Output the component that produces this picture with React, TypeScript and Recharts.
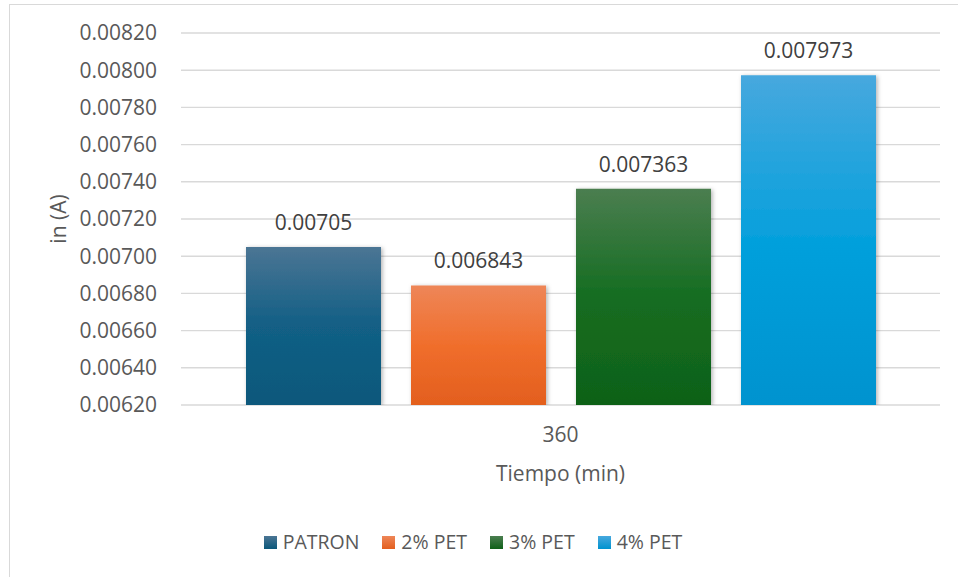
import { BarChart, Bar, XAxis, YAxis, CartesianGrid, LabelList } from "recharts";

// Corriente a 360 min por mezcla
const categories = ["360"];
const seriesNames = ["PATRON", "2% PET", "3% PET", "4% PET"];
const patron = [0.00705];
const pet2 = [0.006843];
const pet3 = [0.007363];
const pet4 = [0.007973];
const yTicks = [0.0062, 0.0064, 0.0066, 0.0068, 0.007, 0.0072, 0.0074, 0.0076, 0.0078, 0.008, 0.0082];

const seriesValues = [patron, pet2, pet3, pet4];
const keys = ["patron", "pet2", "pet3", "pet4"];

const gradients = [
  ["#4b7594", "#125f85", "#0b587b"],
  ["#ee8658", "#f06e2c", "#e35f1e"],
  ["#4b7e50", "#156d21", "#0f6118"],
  ["#47a8de", "#05a0dc", "#0093cf"],
];

const data = categories.map((cat, i) => {
  const row: any = { cat };
  keys.forEach((k, s) => {
    row[k] = seriesValues[s][i];
  });
  return row;
});

const FONT = "'Open Sans', 'Noto Sans', sans-serif";
const FS = 21;

function ChartLegend() {
  return (
    <div
      style={{
        position: "absolute",
        left: 0,
        top: 528,
        width: 946,
        display: "flex",
        justifyContent: "center",
        gap: 23,
        fontFamily: FONT,
        fontSize: 19.5,
        color: "#595959",
        lineHeight: "28px",
      }}
    >
      {seriesNames.map((name, i) => (
        <div key={name} style={{ display: "flex", alignItems: "center" }}>
          <svg width={13} height={13} style={{ marginRight: 6 }}>
            <defs>
              <linearGradient id={`lg${i}`} x1="0" y1="0" x2="0" y2="1">
                <stop offset="0%" stopColor={gradients[i][0]} />
                <stop offset="100%" stopColor={gradients[i][2]} />
              </linearGradient>
            </defs>
            <rect width={13} height={13} fill={`url(#lg${i})`} />
          </svg>
          <span>{name}</span>
        </div>
      ))}
    </div>
  );
}

export default function App() {
  return (
    <div
      style={{
        position: "fixed",
        left: 0,
        top: 0,
        width: 958,
        height: 577,
        overflow: "hidden",
        background: "#fff",
      }}
    >
      <div
        style={{
          position: "absolute",
          left: 9,
          top: 4,
          width: 1000,
          height: 620,
          borderLeft: "1.5px solid #d9d9d9",
          borderTop: "1.5px solid #d9d9d9",
        }}
      />
      <div style={{ position: "absolute", left: 0, top: 0 }}>
        <BarChart
          width={958}
          height={577}
          data={data}
          margin={{ top: 33, right: 18, bottom: 142, left: 0 }}
          barCategoryGap={65}
          barGap={30}
        >
          <defs>
            {gradients.map((g, i) => (
              <linearGradient key={i} id={`grad${i}`} x1="0" y1="0" x2="0" y2="1">
                <stop offset="0%" stopColor={g[0]} />
                <stop offset="50%" stopColor={g[1]} />
                <stop offset="100%" stopColor={g[2]} />
              </linearGradient>
            ))}
            <filter id="barShadow" x="-10%" y="-10%" width="120%" height="120%">
              <feDropShadow dx="1.5" dy="1" stdDeviation="2" floodColor="#000" floodOpacity="0.3" />
            </filter>
          </defs>
          <CartesianGrid horizontal vertical={false} stroke="#d9d9d9" strokeWidth={1.4} />
          <XAxis
            dataKey="cat"
            height={30}
            axisLine={false}
            tickLine={false}
            tickSize={0}
            tickMargin={22}
            tick={{ fill: "#595959", fontSize: FS, fontFamily: FONT }}
            label={(p: any) => {
              const vb = p.viewBox;
              return (
                <text
                  x={vb.x + vb.width / 2}
                  y={vb.y + 68}
                  textAnchor="middle"
                  dominantBaseline="central"
                  fill="#595959"
                  fontSize={FS}
                  fontFamily={FONT}
                >
                  Tiempo (min)
                </text>
              );
            }}
          />
          <YAxis
            width={181}
            domain={[0.0062, 0.0082]}
            ticks={yTicks}
            interval={0}
            allowDataOverflow
            axisLine={false}
            tickLine={false}
            tickSize={0}
            tickMargin={24}
            tickFormatter={(v: number) => v.toFixed(5)}
            tick={{ fill: "#595959", fontSize: FS, fontFamily: FONT }}
            label={(p: any) => {
              const vb = p.viewBox;
              const cx = vb.x + 58;
              const cy = vb.y + vb.height / 2;
              return (
                <text
                  x={cx}
                  y={cy}
                  transform={`rotate(-90 ${cx} ${cy})`}
                  textAnchor="middle"
                  dominantBaseline="central"
                  fill="#595959"
                  fontSize={FS}
                  fontFamily={FONT}
                >
                  in (A)
                </text>
              );
            }}
          />
          {keys.map((k, i) => (
            <Bar
              key={k}
              dataKey={k}
              name={seriesNames[i]}
              fill={`url(#grad${i})`}
              filter="url(#barShadow)"
              isAnimationActive={false}
            >
              <LabelList
                dataKey={k}
                position="top"
                offset={17}
                fill="#404040"
                fontSize={FS}
                fontFamily={FONT}
                formatter={(v: any) => String(v)}
              />
            </Bar>
          ))}
        </BarChart>
      </div>
      <ChartLegend />
    </div>
  );
}
